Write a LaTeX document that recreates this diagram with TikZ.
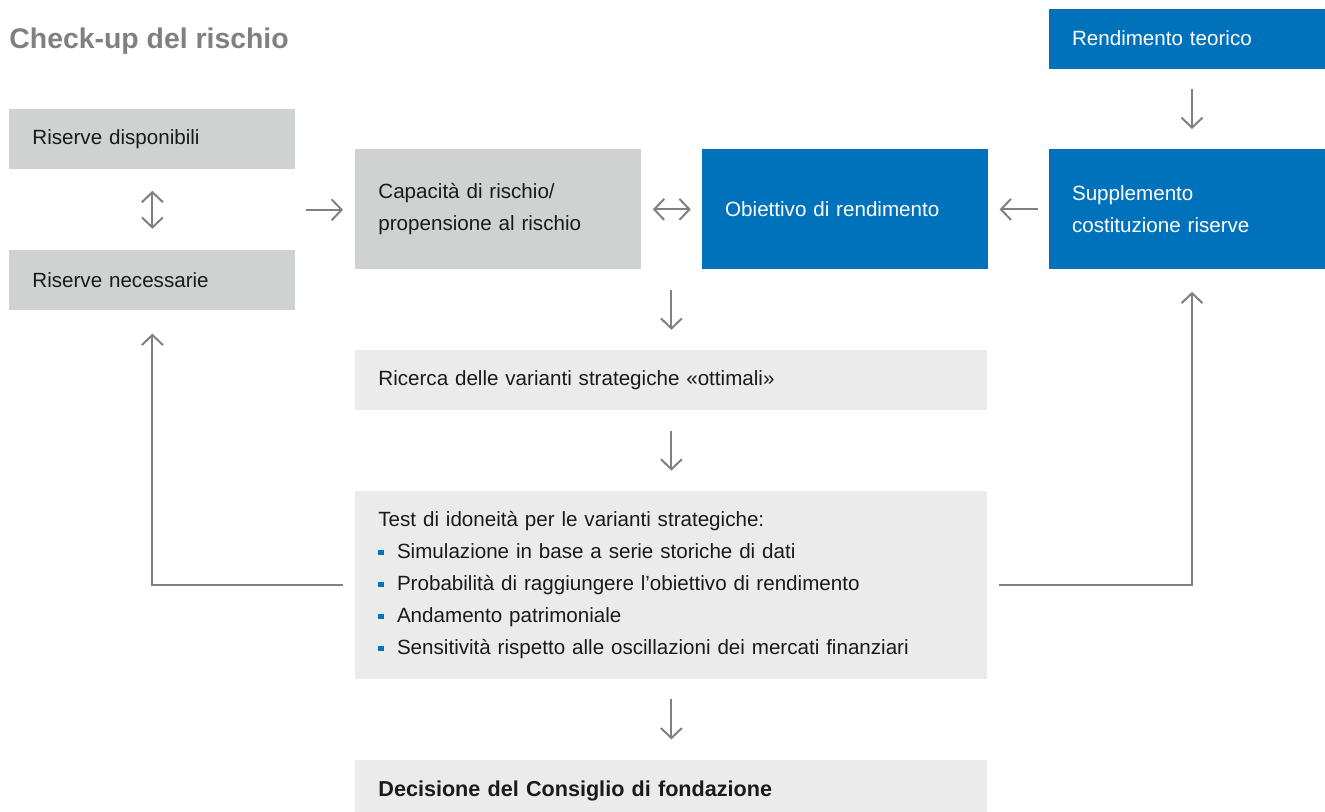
\documentclass[tikz,border=0pt]{standalone}
\usepackage{fontspec}
\setmainfont{Liberation Sans}
\usepackage{tikz}
\usetikzlibrary{positioning,calc,arrows.meta}

\definecolor{blu}{RGB}{0,114,188}
\definecolor{grigio}{RGB}{208,209,209}
\definecolor{chiaro}{RGB}{235,235,235}
\definecolor{freccia}{RGB}{128,128,128}
\definecolor{testo}{RGB}{26,26,26}

\newcommand{\punto}{\textcolor{blu}{\rule[0.3ex]{2.8pt}{2.8pt}}\hspace{6.5pt}}

\begin{document}
\begin{tikzpicture}[
		x=0.5pt, y=-0.5pt
		,every node/.append style={font=\fontsize{10.3pt}{16pt}\selectfont, text=testo}
		,cella/.style={anchor=north west, minimum height=30pt, inner xsep=11.5pt, text width=120pt, align=left}
		,g/.style={cella, fill=grigio}
		,b/.style={cella, fill=blu, text=white}
		,lg/.style={cella, fill=chiaro, text width=293pt}
		,ar/.style={draw=freccia, line width=1pt, -{Straight Barb[length=5pt,width=10.5pt,line width=1pt]}}
		,ar2/.style={ar, {Straight Barb[length=5pt,width=10.5pt,line width=1pt]}-{Straight Barb[length=5pt,width=10.5pt,line width=1pt]}}
	]
		\useasboundingbox (0,0) rectangle (1325,811);
		% titolo
		\node [anchor=base west, inner sep=0pt, text=freccia, font=\fontsize{14.2pt}{16pt}\selectfont\bfseries] (tit) at (9,48) {Check-up del rischio};
		% colonna sinistra
		\node [g] (disp) at (9,109) {Riserve disponibili};
		\node [g, below=40pt of disp] (nec) {Riserve necessarie};
		% riga centrale
		\node [g, minimum height=60pt] (cap) at (355,149) {Capacità di rischio/\\propensione al rischio};
		\node [b, minimum height=60pt, right=30pt of cap] (obj) {Obiettivo di rendimento};
		\node [b, minimum height=60pt, right=30pt of obj] (sup) {Supplemento\\costituzione riserve};
		\node [b, above=40pt of sup] (teo) {Rendimento teorico};
		% colonna centrale
		\node [lg, below=40pt of cap.south west, anchor=north west] (ric) {Ricerca delle varianti strategiche «ottimali»};
		\node [lg, minimum height=94pt, below=40pt of ric] (test) {Test di idoneità per le varianti strategiche:\\
			\punto Simulazione in base a serie storiche di dati\\
			\punto Probabilità di raggiungere l’obiettivo di rendimento\\
			\punto Andamento patrimoniale\\
			\punto Sensitività rispetto alle oscillazioni dei mercati finanziari};
		\node [lg, minimum height=31pt, below=40pt of test, font=\fontsize{10.8pt}{16pt}\selectfont\bfseries] (dec) {Decisione del Consiglio di fondazione};

		\coordinate (mid) at ($(disp.east)!0.5!(nec.east)$);
		\draw [ar2, shorten <=10.5pt, shorten >=10.5pt] (disp) -- (nec);
		\draw [ar, shorten <=5pt, shorten >=6pt] (mid) -- (mid -| cap.west);
		\draw [ar2, shorten <=5.5pt, shorten >=5.5pt] (cap) -- (obj);
		\draw [ar, shorten <=5.5pt, shorten >=5.5pt] (sup) -- (obj);
		\draw [ar, shorten <=10pt, shorten >=10pt] (teo) -- (sup);
		\draw [ar, shorten <=10pt, shorten >=10pt] (ric.north |- cap.south) -- (ric.north);
		\draw [ar, shorten <=10pt, shorten >=10pt] (ric) -- (test);
		\draw [ar, shorten <=10pt, shorten >=10pt] (test) -- (dec);
		\draw [ar, shorten <=6pt, shorten >=11.5pt] (test.west) -| (nec.south);
		\draw [ar, shorten <=5.5pt, shorten >=11pt] (test.east) -| (sup.south);
	\end{tikzpicture}
\end{document}
